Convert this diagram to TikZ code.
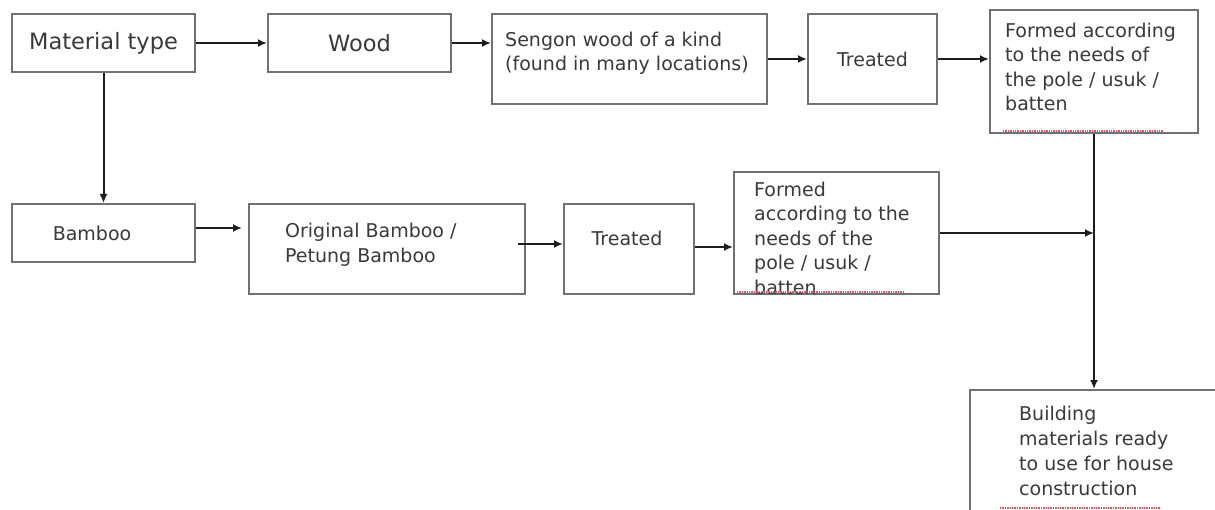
\documentclass[tikz,border=0pt]{standalone}
\usepackage{fontspec}
\setmainfont{DejaVu Sans}
\usetikzlibrary{arrows.meta}
\definecolor{boxgray}{HTML}{6E7178}
\definecolor{txt}{HTML}{3A3A3A}
\definecolor{arr}{HTML}{1E1E1E}
\definecolor{spell}{HTML}{E8505A}
\tikzset{
  box/.style={draw=boxgray, line width=2pt, anchor=north west, inner sep=0pt},
  bigtxt/.style={text=txt, font=\fontsize{22.5}{27}\selectfont, inner sep=0pt},
  smalltxt/.style={text=txt, font=\fontsize{19}{24.3}\selectfont, align=left, inner sep=0pt, anchor=north west},
  flow/.style={draw=arr, line width=2pt, -{Latex[length=9pt,width=8pt]}},
  squiggle/.style={draw=spell, line width=1.4pt, densely dotted}
}
\begin{document}
\begin{tikzpicture}[x=1pt,y=-1pt]
\useasboundingbox (0,0) rectangle (1215,510);
\clip (0,0) rectangle (1215,510);
\fill[white] (0,0) rectangle (1215,510);

% boxes
\node[box, minimum width=183pt, minimum height=58pt, bigtxt] (mat) at (11,13) {Material type};
\node[box, minimum width=183pt, minimum height=58pt, bigtxt] (wood) at (267,13) {Wood};
\node[box, minimum width=275pt, minimum height=90pt] (sengon) at (491,13) {};
\node[box, minimum width=129pt, minimum height=90pt, smalltxt, anchor=north west] (treat1) at (807,13) {Treated};
\node[box, minimum width=208pt, minimum height=123pt] (form1) at (989,9) {};
\node[box, minimum width=183pt, minimum height=58pt] (bamboo) at (11,203) {};
\node[box, minimum width=276pt, minimum height=90pt] (orig) at (248,203) {};
\node[box, minimum width=130pt, minimum height=90pt] (treat2) at (563,203) {};
\node[box, minimum width=205pt, minimum height=122pt] (form2) at (733,171) {};
\node[box, minimum width=270pt, minimum height=150pt] (build) at (969,389) {};

% texts
\node[smalltxt] (sengont) at (505,31.5) {Sengon wood of a kind\\(found in many locations)};
\node[smalltxt, font=\fontsize{19}{24.3}\selectfont] (form1t) at (1005,22.8) {Formed according\\to the needs of\\the pole / usuk /\\batten};
\node[smalltxt, anchor=center] (bamboot) at (92,233) {Bamboo};
\node[smalltxt, font=\fontsize{19}{25}\selectfont] (origt) at (285,222.5) {Original Bamboo /\\Petung Bamboo};
\node[smalltxt, anchor=center] (treat2t) at (627,238) {Treated};
\begin{scope}
  \clip (form2.south west) rectangle (form2.north east);
  \node[smalltxt, font=\fontsize{19}{24.5}\selectfont] (form2t) at (754,181.5) {Formed\\according to the\\needs of the\\pole / usuk /\\batten};
\end{scope}
\node[smalltxt, font=\fontsize{19}{25}\selectfont] (buildt) at (1019,405.8) {Building\\materials ready\\to use for house\\construction};

% spell-check marks
\draw[squiggle] (1003,131) -- (1163,131);
\draw[squiggle] (737,292) -- (905,292);
\draw[squiggle] (1000,508) -- (1160,508);

% connectors
\draw[flow] (mat.east) -- (wood.west);
\draw[flow] (wood.east) -- (wood.east -| sengon.west);
\draw[flow] (sengon.east) -- (treat1.west);
\draw[flow] (treat1.east) -- (treat1.east -| form1.west);
\draw[flow] (mat.south) -- (mat.south |- bamboo.north);
\draw[flow, shorten >=6pt] ([yshift=5pt]bamboo.east) -- ([yshift=5pt]bamboo.east -| orig.west);
\draw[flow] ([yshift=5pt,xshift=-8pt]orig.east) -- ([yshift=5pt]treat2.west);
\draw[flow] ([yshift=2pt]treat2.east) -- ([yshift=2pt]treat2.east -| form2.west);
\coordinate (join) at (form1.south |- form2.east);
\draw[flow] (form2.east) -- (join);
\draw[flow] (form1.south) -- (form1.south |- build.north);
\end{tikzpicture}
\end{document}
